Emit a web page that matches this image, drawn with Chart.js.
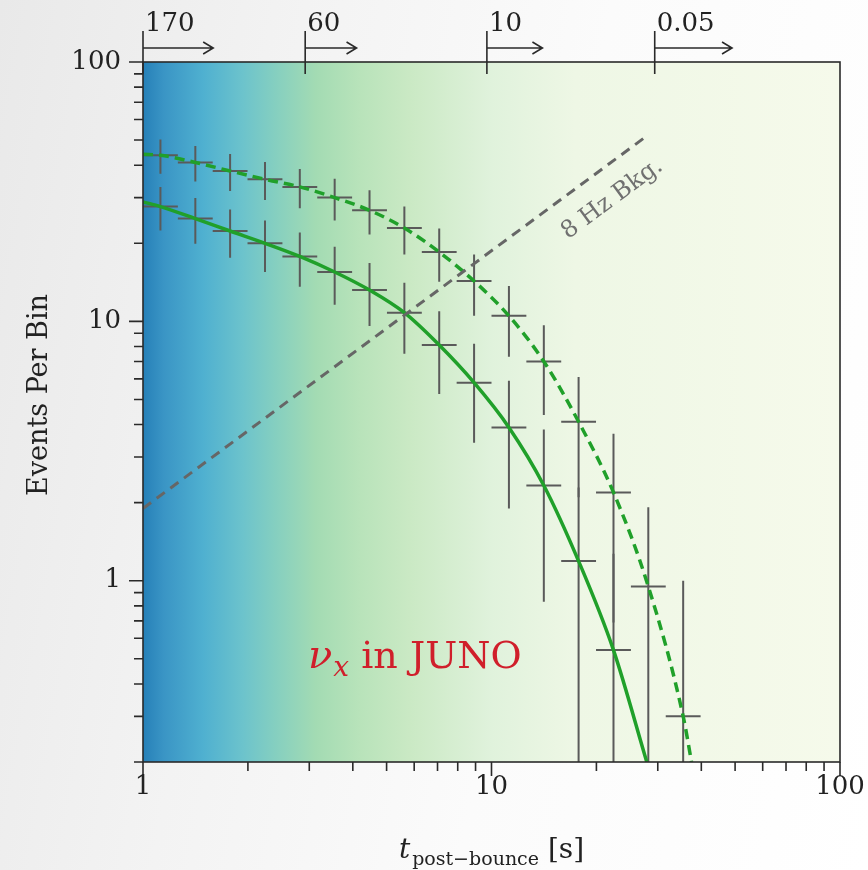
<!DOCTYPE html>
<html>
<head>
<meta charset="utf-8">
<script src="https://cdn.jsdelivr.net/npm/chart.js@4.4.1/dist/chart.umd.min.js"></script>
<style>
  html, body { margin: 0; padding: 0; }
  body {
    width: 868px; height: 870px; overflow: hidden;
    background: linear-gradient(100deg, #e9e9e9 0%, #f3f3f3 30%, #fbfbfb 60%, #ffffff 100%);
  }
  canvas { display: block; }
</style>
</head>
<body>
<canvas id="chart" width="868" height="870"></canvas>
<script>
// Log-binned event counts per bin (bin centres and edges in seconds)
const tCenter = [1.122, 1.413, 1.778, 2.239, 2.818, 3.548, 4.467, 5.623, 7.079, 8.913, 11.22, 14.13, 17.78, 22.39, 28.18, 35.48];
const binEdges = [1, 1.259, 1.585, 1.995, 2.512, 3.162, 3.981, 5.012, 6.310, 7.943, 10, 12.59, 15.85, 19.95, 25.12, 31.62, 39.81];

// Upper sample (dashed curve) and its error
const eventsHigh = [43.7, 41.0, 38.0, 35.3, 33.0, 30.0, 26.8, 22.9, 18.5, 14.3, 10.5, 7.0, 4.1, 2.19, 0.95, 0.30];
const errHigh    = [6.6, 6.4, 6.2, 5.9, 5.7, 5.5, 5.2, 4.8, 4.3, 3.8, 3.2, 2.65, 2.0, 1.5, 0.97, 0.7];

// Lower sample (solid curve) and its error
const eventsLow = [27.7, 24.9, 22.3, 20.0, 17.8, 15.5, 13.2, 10.8, 8.1, 5.8, 3.9, 2.33, 1.19, 0.54];
const errLow    = [5.3, 5.0, 4.7, 4.5, 4.2, 3.9, 3.6, 3.3, 2.85, 2.4, 2.0, 1.5, 1.1, 0.73];

// Model curves
const fitLowT  = [1, 1.122, 1.413, 1.778, 2.239, 2.818, 3.548, 4.467, 5.623, 7.079, 8.913, 11.22, 14.13, 17.78, 22.39, 27.9];
const fitLowN  = [28.9, 27.7, 24.9, 22.3, 20.0, 17.8, 15.5, 13.2, 10.8, 8.1, 5.8, 3.9, 2.33, 1.19, 0.54, 0.2];
const fitHighT = [1, 1.122, 1.413, 1.778, 2.239, 2.818, 3.548, 4.467, 5.623, 7.079, 8.913, 11.22, 14.13, 17.78, 22.39, 28.18, 35.48, 37.5];
const fitHighN = [44.1, 43.7, 41.0, 38.0, 35.3, 33.0, 30.0, 26.8, 22.9, 18.5, 14.3, 10.5, 7.0, 4.1, 2.19, 0.95, 0.30, 0.2];

// 8 Hz background line
const bkgT = [1, 27.6];
const bkgN = [1.9, 51.3];

// Axis ticks
const xTickValues = [1, 10, 100];
const xTickLabels = ['1', '10', '100'];
const yTickValues = [1, 10, 100];
const yTickLabels = ['1', '10', '100'];
const minorMult = [2, 3, 4, 5, 6, 7, 8, 9];

// Upper marker arrows
const topMarkT   = [1, 2.92, 9.7, 29.4];
const topMarkEnd = [1.59, 4.1, 14, 49];
const topMarkLabels = ['170', '60', '10', '0.05'];

const SERIF = '"DejaVu Serif", "Liberation Serif", serif';
const GREEN = '#20a02a';

const pts = (xs, ys) => xs.map((x, i) => ({ x, y: ys[i] }));

const decorPlugin = {
  id: 'decor',
  beforeDatasetsDraw(chart) {
    const { ctx, chartArea: ca, scales: { x: xs, y: ys } } = chart;
    ctx.save();
    const g = ctx.createLinearGradient(ca.left, 0, ca.right, 0);
    [[0, '#2680b8'], [0.03, '#3a95c5'], [0.086, '#4fb0d0'], [0.143, '#6cc3cc'],
     [0.19, '#85cfc0'], [0.248, '#a3dbb3'], [0.31, '#b8e3ba'], [0.382, '#cae9c4'],
     [0.5, '#e0f2dc'], [0.62, '#eef7e5'], [1, '#f6faeb']].forEach(s => g.addColorStop(s[0], s[1]));
    ctx.fillStyle = g;
    ctx.fillRect(ca.left, ca.top, ca.right - ca.left, ca.bottom - ca.top);

    // error crosses
    ctx.beginPath();
    ctx.rect(ca.left, ca.top, ca.right - ca.left, ca.bottom - ca.top);
    ctx.clip();
    ctx.strokeStyle = '#5a5a5a';
    ctx.lineWidth = 2;
    const cross = (vals, errs) => {
      vals.forEach((n, i) => {
        const xc = xs.getPixelForValue(tCenter[i]);
        const x0 = xs.getPixelForValue(binEdges[i]);
        const x1 = xs.getPixelForValue(binEdges[i + 1]);
        const yc = ys.getPixelForValue(n);
        const lo = n - errs[i];
        const yLo = lo > 0 ? Math.min(ys.getPixelForValue(lo), ca.bottom) : ca.bottom;
        const yHi = ys.getPixelForValue(n + errs[i]);
        ctx.beginPath();
        ctx.moveTo(xc, yHi); ctx.lineTo(xc, yLo);
        ctx.moveTo(x0, yc); ctx.lineTo(x1, yc);
        ctx.stroke();
      });
    };
    cross(eventsHigh, errHigh);
    cross(eventsLow, errLow);
    ctx.restore();
  },
  afterDraw(chart) {
    const { ctx, chartArea: ca, scales: { x: xs, y: ys } } = chart;
    ctx.save();
    ctx.strokeStyle = '#2a2a2a';
    ctx.fillStyle = '#222';
    ctx.lineWidth = 1.6;

    // frame
    ctx.strokeRect(ca.left, ca.top, ca.right - ca.left, ca.bottom - ca.top);

    // x ticks (outward, below)
    ctx.beginPath();
    for (let d = 1; d < 100; d *= 10) {
      minorMult.forEach(m => {
        const px = xs.getPixelForValue(d * m);
        ctx.moveTo(px, ca.bottom); ctx.lineTo(px, ca.bottom + 9);
      });
    }
    xTickValues.forEach(v => {
      const px = xs.getPixelForValue(v);
      ctx.moveTo(px, ca.bottom); ctx.lineTo(px, ca.bottom + 14);
    });
    // y ticks (outward, left)
    for (let d = 0.1; d < 100; d *= 10) {
      minorMult.forEach(m => {
        const v = d * m;
        if (v < 0.199 || v > 100) return;
        const py = ys.getPixelForValue(v);
        ctx.moveTo(ca.left, py); ctx.lineTo(ca.left - 9, py);
      });
    }
    yTickValues.forEach(v => {
      const py = ys.getPixelForValue(v);
      ctx.moveTo(ca.left, py); ctx.lineTo(ca.left - 14, py);
    });
    ctx.stroke();

    // tick labels
    ctx.font = '26px ' + SERIF;
    ctx.textAlign = 'right';
    ctx.textBaseline = 'middle';
    yTickValues.forEach((v, i) => ctx.fillText(yTickLabels[i], ca.left - 22, ys.getPixelForValue(v)));
    ctx.textAlign = 'center';
    ctx.textBaseline = 'top';
    xTickValues.forEach((v, i) => ctx.fillText(xTickLabels[i], xs.getPixelForValue(v), ca.bottom + 12));

    // axis titles
    ctx.save();
    ctx.translate(40, 395);
    ctx.rotate(-Math.PI / 2);
    ctx.textAlign = 'center';
    ctx.textBaseline = 'middle';
    ctx.font = '27px ' + SERIF;
    ctx.fillText('Events Per Bin', 0, 0);
    ctx.restore();

    {
      const base = 858;
      const fT = 'italic 28px ' + SERIF, fS = '19px ' + SERIF, fN = '28px ' + SERIF;
      ctx.textAlign = 'left';
      ctx.textBaseline = 'alphabetic';
      ctx.font = fT; const w1 = ctx.measureText('t').width + 2;
      ctx.font = fS; const w2 = ctx.measureText('post\u2212bounce').width;
      ctx.font = fN; const w3 = ctx.measureText(' [s]').width;
      let x = (ca.left + ca.right) / 2 - (w1 + w2 + w3) / 2;
      ctx.font = fT; ctx.fillText('t', x, base); x += w1;
      ctx.font = fS; ctx.fillText('post\u2212bounce', x, base + 7); x += w2;
      ctx.font = fN; ctx.fillText(' [s]', x, base);
    }

    // top markers with arrows
    ctx.font = '26px ' + SERIF;
    ctx.textAlign = 'left';
    ctx.textBaseline = 'alphabetic';
    ctx.lineWidth = 1.6;
    topMarkT.forEach((t, i) => {
      const px = xs.getPixelForValue(t);
      const pe = xs.getPixelForValue(topMarkEnd[i]);
      const ay = ca.top - 14;
      ctx.beginPath();
      ctx.moveTo(px, ca.top - 31); ctx.lineTo(px, ca.top + 12);
      ctx.moveTo(px, ay); ctx.lineTo(pe, ay);
      ctx.moveTo(pe - 10, ay - 6); ctx.lineTo(pe, ay); ctx.lineTo(pe - 10, ay + 6);
      ctx.stroke();
      ctx.fillText(topMarkLabels[i], px + 2, ca.top - 31);
    });

    // background label along the dashed line
    {
      const p0x = xs.getPixelForValue(bkgT[0]), p0y = ys.getPixelForValue(bkgN[0]);
      const p1x = xs.getPixelForValue(bkgT[1]), p1y = ys.getPixelForValue(bkgN[1]);
      const ang = Math.atan2(p1y - p0y, p1x - p0x);
      ctx.save();
      ctx.translate(xs.getPixelForValue(22.2), ys.getPixelForValue(29.6));
      ctx.rotate(ang);
      ctx.font = '24px ' + SERIF;
      ctx.fillStyle = '#707070';
      ctx.textAlign = 'center';
      ctx.textBaseline = 'middle';
      ctx.fillText('8 Hz Bkg.', 0, 0);
      ctx.restore();
    }

    // flavour label
    {
      let x = xs.getPixelForValue(2.975);
      const base = ys.getPixelForValue(0.461);
      ctx.fillStyle = '#d01f2b';
      ctx.textAlign = 'left';
      ctx.textBaseline = 'alphabetic';
      ctx.font = 'italic 40px ' + SERIF;
      ctx.fillText('\u03bd', x, base); x += ctx.measureText('\u03bd').width + 1;
      ctx.font = 'italic 28px ' + SERIF;
      ctx.fillText('x', x, base + 8); x += ctx.measureText('x').width;
      ctx.font = '38px ' + SERIF;
      ctx.fillText(' in JUNO', x, base);
    }
    ctx.restore();
  }
};

new Chart(document.getElementById('chart'), {
  type: 'line',
  data: {
    datasets: [
      {
        data: pts(bkgT, bkgN),
        borderColor: '#666666', borderWidth: 3, borderDash: [10, 7],
        pointRadius: 0, fill: false
      },
      {
        data: pts(fitLowT, fitLowN),
        borderColor: GREEN, borderWidth: 3.5,
        cubicInterpolationMode: 'monotone', pointRadius: 0, fill: false
      },
      {
        data: pts(fitHighT, fitHighN),
        borderColor: GREEN, borderWidth: 3.5, borderDash: [10, 6],
        cubicInterpolationMode: 'monotone', pointRadius: 0, fill: false
      }
    ]
  },
  options: {
    responsive: false,
    animation: false,
    devicePixelRatio: 1,
    layout: { padding: { left: 143, right: 28, top: 62, bottom: 108 } },
    plugins: { legend: { display: false }, tooltip: { enabled: false } },
    scales: {
      x: { type: 'logarithmic', min: 1, max: 100, display: false },
      y: { type: 'logarithmic', min: 0.2, max: 100, display: false }
    }
  },
  plugins: [decorPlugin]
});
</script>
</body>
</html>
